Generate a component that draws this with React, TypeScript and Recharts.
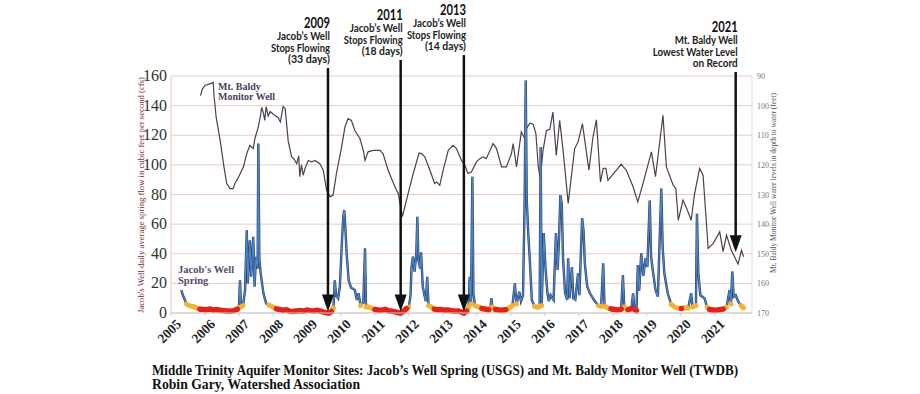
import React from "react";
import { LineChart, Line, XAxis, YAxis, CartesianGrid, ReferenceLine } from "recharts";

// Jacob's Well Spring daily flow (cfs)
const flowYears = [
  2005.3, 2005.35, 2005.41, 2005.46, 2005.55, 2005.65, 2005.75, 2005.85, 2005.95, 2006.05, 2006.15, 2006.25,
  2006.35, 2006.45, 2006.55, 2006.65, 2006.75, 2006.85, 2006.95, 2007.0, 2007.03, 2007.06, 2007.12, 2007.18,
  2007.23, 2007.26, 2007.32, 2007.36, 2007.42, 2007.46, 2007.5, 2007.55, 2007.57, 2007.6, 2007.64, 2007.72,
  2007.8, 2007.88, 2007.95, 2008.02, 2008.1, 2008.2, 2008.3, 2008.4, 2008.5, 2008.6, 2008.7, 2008.8,
  2008.9, 2009.0, 2009.1, 2009.2, 2009.3, 2009.4, 2009.5, 2009.58, 2009.66, 2009.72, 2009.78, 2009.82,
  2009.86, 2009.92, 2009.97, 2010.03, 2010.07, 2010.1, 2010.13, 2010.17, 2010.23, 2010.3, 2010.41, 2010.47,
  2010.52, 2010.58, 2010.66, 2010.71, 2010.74, 2010.8, 2010.9, 2011.0, 2011.1, 2011.2, 2011.3, 2011.4,
  2011.5, 2011.6, 2011.7, 2011.76, 2011.84, 2011.93, 2012.0, 2012.05, 2012.08, 2012.12, 2012.17, 2012.22,
  2012.25, 2012.28, 2012.33, 2012.36, 2012.41, 2012.46, 2012.5, 2012.54, 2012.58, 2012.66, 2012.75, 2012.85,
  2012.95, 2013.05, 2013.15, 2013.25, 2013.35, 2013.45, 2013.55, 2013.62, 2013.7, 2013.76, 2013.79, 2013.83,
  2013.87, 2013.9, 2013.95, 2014.05, 2014.15, 2014.25, 2014.35, 2014.4, 2014.43, 2014.46, 2014.55, 2014.65,
  2014.75, 2014.85, 2014.95, 2015.05, 2015.12, 2015.17, 2015.25, 2015.3, 2015.36, 2015.41, 2015.44, 2015.47,
  2015.52, 2015.56, 2015.62, 2015.7, 2015.78, 2015.85, 2015.88, 2015.91, 2015.97, 2016.02, 2016.08, 2016.12,
  2016.17, 2016.26, 2016.33, 2016.38, 2016.42, 2016.46, 2016.5, 2016.54, 2016.6, 2016.66, 2016.69, 2016.73,
  2016.8, 2016.84, 2016.9, 2016.98, 2017.02, 2017.1, 2017.14, 2017.18, 2017.25, 2017.33, 2017.45, 2017.58,
  2017.66, 2017.72, 2017.76, 2017.85, 2017.95, 2018.05, 2018.15, 2018.25, 2018.3, 2018.34, 2018.45, 2018.55,
  2018.6, 2018.64, 2018.7, 2018.74, 2018.78, 2018.84, 2018.9, 2018.97, 2019.02, 2019.09, 2019.13, 2019.18,
  2019.26, 2019.33, 2019.43, 2019.47, 2019.52, 2019.62, 2019.72, 2019.82, 2019.92, 2020.02, 2020.12, 2020.22,
  2020.31, 2020.35, 2020.45, 2020.48, 2020.52, 2020.58, 2020.7, 2020.78, 2020.85, 2020.95, 2021.05, 2021.15,
  2021.25, 2021.35, 2021.44, 2021.48, 2021.52, 2021.56, 2021.62, 2021.7, 2021.78, 2021.85,
];
const flowCfs = [
  15.5, 12, 8.8, 6, 4.8, 4.5, 3.5, 2.6, 2.4, 2.2, 2.6, 2,
  2.3, 1.8, 1.6, 1.4, 1.2, 1.6, 2.6, 3.6, 22, 4, 5, 15.5,
  56, 20, 49, 24.5, 51.5, 17.8, 38, 30, 114.5, 35.8, 26.8, 13.3,
  6.5, 5.4, 4.6, 3.8, 2.8, 2.4, 1.8, 2.2, 1.2, 1, 1.4, 1.6,
  1.2, 2, 1.6, 1.4, 1.8, 1.2, 0.6, 0.2, 0, 1, 3.5, 22,
  12, 10, 18, 48, 65, 69.5, 58, 40, 22, 17, 15.5, 8.8,
  13.3, 5, 7, 43.7, 4, 4.2, 3.2, 2.4, 2, 1.8, 2.4, 1.6,
  1.2, 0.8, 0.2, 0, 1, 3, 4, 12, 31, 38, 28, 40,
  65, 36, 30, 41, 17.8, 12, 8, 24.5, 5, 4, 2.6, 2.2,
  2.4, 1.8, 2, 1.5, 1.2, 1.4, 0.6, 0, 1.2, 4, 24.5, 6,
  92, 13, 5, 4, 3, 2.6, 2.2, 3.5, 10, 4, 2.4, 2,
  1.8, 2.2, 3.2, 5, 20, 6, 14.4, 8, 12, 78.5, 157, 76,
  51.5, 36, 8.8, 4.5, 3.8, 4.5, 112, 5, 54, 31, 13.3, 8,
  12, 8.8, 54, 29, 50, 79.6, 74, 36, 13.3, 8.8, 37, 10,
  31, 10, 9, 26.8, 12, 64, 56, 33.5, 17.8, 13.3, 8.8, 5,
  4.5, 33.5, 4.5, 3.5, 2.8, 2.4, 2, 2.6, 25.6, 4, 2.2, 3,
  13.3, 2.5, 1.5, 32.4, 15, 40.3, 25, 37, 31, 76, 38, 29,
  15.5, 11, 84, 44.8, 26.8, 13.3, 6, 4, 3.4, 3, 3.6, 3.2,
  13.3, 4, 5, 67, 26.8, 12, 10, 4, 2.4, 2, 1.8, 2.2,
  2.6, 3.8, 15.5, 6, 28, 11, 12, 7.5, 5, 3.5,
];

// Mt. Baldy Monitor Well depth to water (feet)
const baldyYears = [
  2005.87, 2005.92, 2006.0, 2006.2, 2006.24, 2006.27, 2006.33, 2006.45, 2006.55, 2006.64, 2006.74, 2006.83,
  2006.88, 2006.95, 2007.13, 2007.23, 2007.32, 2007.42, 2007.47, 2007.57, 2007.64, 2007.67, 2007.72, 2007.76,
  2007.8, 2007.86, 2007.92, 2008.02, 2008.15, 2008.22, 2008.3, 2008.36, 2008.45, 2008.55, 2008.62, 2008.7,
  2008.76, 2008.79, 2008.84, 2008.89, 2008.95, 2009.04, 2009.14, 2009.24, 2009.38, 2009.48, 2009.58, 2009.68,
  2009.77, 2009.87, 2010.02, 2010.12, 2010.21, 2010.31, 2010.41, 2010.56, 2010.66, 2010.71, 2010.8, 2010.95,
  2011.15, 2011.24, 2011.39, 2011.59, 2011.69, 2011.81, 2011.93, 2012.13, 2012.3, 2012.37, 2012.47, 2012.62,
  2012.76, 2012.82, 2012.91, 2013.01, 2013.16, 2013.3, 2013.4, 2013.55, 2013.65, 2013.74, 2013.84, 2013.99,
  2014.09, 2014.19, 2014.28, 2014.48, 2014.58, 2014.73, 2014.87, 2015.02, 2015.07, 2015.17, 2015.31, 2015.41,
  2015.46, 2015.56, 2015.66, 2015.74, 2015.81, 2015.87, 2015.95, 2016.05, 2016.15, 2016.24, 2016.34, 2016.44,
  2016.54, 2016.69, 2016.88, 2016.98, 2017.11, 2017.3, 2017.42, 2017.52, 2017.64, 2017.72, 2017.8, 2017.86,
  2018.11, 2018.25, 2018.4, 2018.6, 2018.74, 2018.89, 2019.14, 2019.26, 2019.48, 2019.58, 2019.78, 2019.86,
  2019.93, 2020.07, 2020.22, 2020.31, 2020.41, 2020.56, 2020.66, 2020.81, 2020.96, 2021.15, 2021.25, 2021.35,
  2021.49, 2021.69, 2021.79, 2021.85,
];
const baldyDepth = [
  96.6, 94.5, 93.2, 92.4, 92.1, 97, 104, 112, 120, 126.3, 128, 128,
  126.3, 125, 120.7, 116.2, 113.4, 114.5, 111.1, 107.2, 103, 100.6, 102.5, 105,
  100.3, 103.5, 102, 103, 104, 105.5, 100.3, 101, 112, 117.3, 118, 119.6,
  117, 124, 120, 123.5, 121, 118.5, 119, 118.5, 119.6, 121.8, 128.5, 130.8,
  130.2, 122.9, 114, 107.2, 104.4, 105, 108.4, 111.1, 115.1, 118.5, 115.6, 115.1,
  115.1, 116.2, 121.8, 127.4, 129.7, 137.5, 131.9, 122.9, 116, 116.2, 117.3, 121.8,
  126.3, 125.8, 126.9, 121.8, 115.1, 113.4, 114.5, 118.5, 120.1, 122.9, 122.4, 119,
  117.9, 117.3, 117.9, 112.8, 114.5, 120.7, 120.7, 116.2, 112.8, 120.7, 108.9, 111.1,
  107.8, 105.9, 106.3, 109.5, 120.7, 124.6, 115.1, 108.4, 108, 102.2, 116.8, 105,
  115.1, 133, 114.5, 112.3, 106.1, 121.8, 110.6, 104.8, 125.8, 121.2, 121.2, 125.2,
  121.8, 119.8, 121.8, 127.4, 132.5, 126.3, 115.6, 124, 103.3, 120.7, 126.9, 128,
  138.7, 131.9, 135.9, 138.7, 129.7, 121.2, 123.5, 148.2, 146.5, 142.6, 149.3, 143.7,
  148.8, 153.5, 148.8, 151,
];

const yearTicks = [2005, 2006, 2007, 2008, 2009, 2010, 2011, 2012, 2013, 2014, 2015, 2016, 2017, 2018, 2019, 2020, 2021];
const flowTicks = [0, 20, 40, 60, 80, 100, 120, 140, 160];
const depthTicks = [90, 100, 110, 120, 130, 140, 150, 160, 170];

// arrow annotations: x (year), top and tip in cfs units, text lines with their widths in the scan
const notes = [
  { x: 2009.62, top: 165.4, tip: 1, title: "2009", lines: ["Jacob\u2019s Well", "Stops Flowing", "(33 days)"], widths: [53, 59, 42] },
  { x: 2011.76, top: 170.8, tip: 1, title: "2011", lines: ["Jacob\u2019s Well", "Stops Flowing", "(18 days)"], widths: [53, 59, 41] },
  { x: 2013.62, top: 174.1, tip: 1, title: "2013", lines: ["Jacob\u2019s Well", "Stops Flowing", "(14 days)"], widths: [53, 59, 41] },
  { x: 2021.62, top: 162.7, tip: 41, title: "2021", lines: ["Mt. Baldy Well", "Lowest Water Level", "on Record"], widths: [63, 85, 45] },
];

const flowRows = flowYears.map((year, i) => ({
  year,
  cfs: flowCfs[i],
  low: flowCfs[i] <= 6 ? flowCfs[i] : null,
  vlow: flowCfs[i] <= 3 ? flowCfs[i] : null,
}));
const baldyRows = baldyYears.map((year, i) => ({ year, depth: baldyDepth[i] }));

const serif = "'Liberation Serif', 'Times New Roman', serif";
const sans = "Lato, 'Liberation Sans', sans-serif";

const LeftTick = ({ x, y, payload }: any) => (
  <text x={x} y={y} dy={5} textAnchor="end" fontFamily={serif} fontSize={16} fill="#333">{payload.value}</text>
);
const RightTick = ({ x, y, payload }: any) => (
  <text x={x} y={y} dy={3} textAnchor="start" fontFamily={serif} fontSize={8} fill="#777">{payload.value}</text>
);
// slanted year labels
const yearTick = (props: any) => {
  const { x, y, payload } = props;
  return (
    <g key={payload.value} transform={`translate(${x + 11},${y + 7}) rotate(-45)`}>
      <text x={0} y={0} textAnchor="end" fontFamily={serif} fontWeight="bold" fontSize={13.5} fill="#222">
        {payload.value}
      </text>
    </g>
  );
};

const arrowShape = (note: typeof notes[number]) => (props: any) => {
  const { x1, y1, y2 } = props;
  const top = Math.min(y1, y2), tip = Math.max(y1, y2), x = x1, tx = x + 2;
  return (
    <g>
      <line x1={x} y1={top} x2={x} y2={tip - 12} stroke="#111" strokeWidth={2.5} />
      <polygon points={`${x - 6},${tip - 17} ${x + 6},${tip - 17} ${x},${tip}`} fill="#111" />
      <text x={tx - 26} y={top - 40} textLength={26} lengthAdjust="spacingAndGlyphs" fontFamily={sans}
        fontWeight="bold" fontSize={14.5} fill="#111">{note.title}</text>
      {note.lines.map((l, i) => (
        <text key={l} x={tx - note.widths[i]} y={top - 28 + i * 11.5} textLength={note.widths[i]}
          lengthAdjust="spacingAndGlyphs" fontFamily={sans} fontWeight="bold" fontSize={11.5} fill="#222">{l}</text>
      ))}
    </g>
  );
};

export default function App() {
  return (
    <div style={{ position: "absolute", left: 0, top: 0, width: 920, height: 394, background: "#fff" }}>
      <LineChart width={920} height={394} margin={{ top: 76, right: 108, left: 0, bottom: 51 }}>
        <CartesianGrid yAxisId="left" vertical={false} stroke="#e9c9cd" />
        <XAxis dataKey="year" type="number" domain={[2005, 2022.1]} ticks={yearTicks} allowDataOverflow
          height={30} tickSize={3} tickMargin={2} stroke="#ccc" interval={0} tick={yearTick} />
        <YAxis yAxisId="left" domain={[0, 160]} ticks={flowTicks} width={171} tickSize={0} tickMargin={4}
          tick={<LeftTick />} stroke="#e6c3c8" />
        <YAxis yAxisId="right" orientation="right" domain={[90, 170]} ticks={depthTicks} reversed width={60}
          tickSize={0} tickMargin={5} tick={<RightTick />} stroke="#ddd" />
        <Line data={baldyRows} dataKey="depth" yAxisId="right" stroke="#4a4150" strokeWidth={1.2} dot={false}
          isAnimationActive={false} />
        <Line data={flowRows} dataKey="cfs" yAxisId="left" stroke="#2f3d6e" strokeWidth={2.4} dot={false}
          isAnimationActive={false} />
        <Line data={flowRows} dataKey="cfs" yAxisId="left" stroke="#4a88c6" strokeWidth={1.2} dot={false}
          isAnimationActive={false} />
        <Line data={flowRows} dataKey="low" yAxisId="left" stroke="#f2b233" strokeWidth={5} strokeLinecap="round"
          dot={false} isAnimationActive={false} />
        <Line data={flowRows} dataKey="vlow" yAxisId="left" stroke="#e0231d" strokeWidth={5.5} strokeLinecap="round"
          dot={false} isAnimationActive={false} />
        {notes.map((n) => (
          <ReferenceLine key={n.title} yAxisId="left" ifOverflow="visible"
            segment={[{ x: n.x, y: n.top }, { x: n.x, y: n.tip }]} shape={arrowShape(n)} />
        ))}
      </LineChart>
      <svg width={920} height={394} style={{ position: "absolute", left: 0, top: 0, pointerEvents: "none" }}>
        <text transform="translate(144, 195) rotate(-90)" textAnchor="middle" fontFamily={serif} fontSize={8.5}
          textLength={236} lengthAdjust="spacingAndGlyphs" fill="#7a2733">
          Jacob's Well daily average spring flow in cubic feet per second (cfs)
        </text>
        <text transform="translate(776, 183) rotate(-90)" textAnchor="middle" fontFamily={serif} fontSize={8}
          textLength={180} lengthAdjust="spacingAndGlyphs" fill="#555">
          Mt. Baldy Monitor Well water levels in depth to water (feet)
        </text>
        <text x={218} y={90} fontFamily={serif} fontWeight="bold" fontSize={10} fill="#4b3d5a">Mt. Baldy</text>
        <text x={218} y={100} fontFamily={serif} fontWeight="bold" fontSize={10} fill="#4b3d5a">Monitor Well</text>
        <text x={178} y={273} fontFamily={serif} fontWeight="bold" fontSize={10.5} fill="#5a4a6a">Jacob's Well</text>
        <text x={178} y={284} fontFamily={serif} fontWeight="bold" fontSize={10.5} fill="#5a4a6a">Spring</text>
        <text x={152} y={375} fontFamily={serif} fontWeight="bold" fontSize={15} textLength={586}
          lengthAdjust="spacingAndGlyphs" fill="#111">
          Middle Trinity Aquifer Monitor Sites: Jacob’s Well Spring (USGS) and Mt. Baldy Monitor Well (TWDB)
        </text>
        <text x={152} y={389} fontFamily={serif} fontWeight="bold" fontSize={15} textLength={208}
          lengthAdjust="spacingAndGlyphs" fill="#111">
          Robin Gary, Watershed Association
        </text>
      </svg>
    </div>
  );
}
